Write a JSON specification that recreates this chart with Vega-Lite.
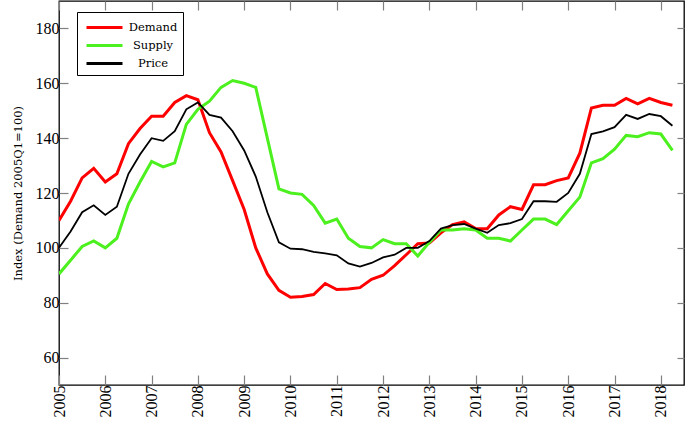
{
  "$schema": "https://vega.github.io/schema/vega-lite/v6.json",
  "autosize": "none",
  "width": 625,
  "height": 384,
  "padding": {"left": 59, "top": 1, "right": 1, "bottom": 43},
  "background": "white",
  "config": {
    "view": {"stroke": "black", "strokeWidth": 1.3},
    "axis": {"labelFont": "Liberation Serif", "labelFontSize": 16, "labelColor": "black", "titleFont": "DejaVu Serif", "domain": false, "grid": false, "ticks": true, "tickColor": "#808080", "tickWidth": 1.2}
  },
  "data": {"values": [
    {"t": 2005.00, "Demand": 110, "Supply": 90.5, "Price": 100},
    {"t": 2005.25, "Demand": 117, "Supply": 95.5, "Price": 106},
    {"t": 2005.50, "Demand": 125.5, "Supply": 100.5, "Price": 113},
    {"t": 2005.75, "Demand": 129, "Supply": 102.5, "Price": 115.5},
    {"t": 2006.00, "Demand": 124, "Supply": 100, "Price": 112},
    {"t": 2006.25, "Demand": 127, "Supply": 103.5, "Price": 115},
    {"t": 2006.50, "Demand": 138, "Supply": 116, "Price": 127},
    {"t": 2006.75, "Demand": 143.5, "Supply": 124, "Price": 134},
    {"t": 2007.00, "Demand": 148, "Supply": 131.5, "Price": 140},
    {"t": 2007.25, "Demand": 148, "Supply": 129.5, "Price": 139},
    {"t": 2007.50, "Demand": 153, "Supply": 131, "Price": 142.5},
    {"t": 2007.75, "Demand": 155.5, "Supply": 145, "Price": 150.5},
    {"t": 2008.00, "Demand": 154, "Supply": 150.5, "Price": 153},
    {"t": 2008.25, "Demand": 142, "Supply": 153.5, "Price": 148.5},
    {"t": 2008.50, "Demand": 135, "Supply": 158.5, "Price": 147.5},
    {"t": 2008.75, "Demand": 124.5, "Supply": 161, "Price": 142.5},
    {"t": 2009.00, "Demand": 114, "Supply": 160, "Price": 135.5},
    {"t": 2009.25, "Demand": 100, "Supply": 158.5, "Price": 126},
    {"t": 2009.50, "Demand": 90.5, "Supply": 140, "Price": 113},
    {"t": 2009.75, "Demand": 84.5, "Supply": 121.5, "Price": 102},
    {"t": 2010.00, "Demand": 82, "Supply": 120, "Price": 99.7},
    {"t": 2010.25, "Demand": 82.3, "Supply": 119.5, "Price": 99.5},
    {"t": 2010.50, "Demand": 83, "Supply": 115.5, "Price": 98.5},
    {"t": 2010.75, "Demand": 87, "Supply": 109, "Price": 98},
    {"t": 2011.00, "Demand": 84.8, "Supply": 110.5, "Price": 97.3},
    {"t": 2011.25, "Demand": 85, "Supply": 103.5, "Price": 94.3},
    {"t": 2011.50, "Demand": 85.5, "Supply": 100.5, "Price": 93.2},
    {"t": 2011.75, "Demand": 88.5, "Supply": 100, "Price": 94.5},
    {"t": 2012.00, "Demand": 90, "Supply": 103, "Price": 96.5},
    {"t": 2012.25, "Demand": 93.5, "Supply": 101.5, "Price": 97.5},
    {"t": 2012.50, "Demand": 97.5, "Supply": 101.5, "Price": 100},
    {"t": 2012.75, "Demand": 101.5, "Supply": 97, "Price": 100},
    {"t": 2013.00, "Demand": 101.8, "Supply": 102, "Price": 102.5},
    {"t": 2013.25, "Demand": 105.5, "Supply": 106.5, "Price": 107},
    {"t": 2013.50, "Demand": 108.5, "Supply": 106.5, "Price": 108.3},
    {"t": 2013.75, "Demand": 109.5, "Supply": 107, "Price": 108.7},
    {"t": 2014.00, "Demand": 107, "Supply": 106.5, "Price": 107},
    {"t": 2014.25, "Demand": 107, "Supply": 103.5, "Price": 105.5},
    {"t": 2014.50, "Demand": 112, "Supply": 103.5, "Price": 108.3},
    {"t": 2014.75, "Demand": 115, "Supply": 102.5, "Price": 109},
    {"t": 2015.00, "Demand": 114, "Supply": 106.5, "Price": 110.5},
    {"t": 2015.25, "Demand": 123, "Supply": 110.5, "Price": 117},
    {"t": 2015.50, "Demand": 123, "Supply": 110.5, "Price": 117},
    {"t": 2015.75, "Demand": 124.5, "Supply": 108.5, "Price": 116.8},
    {"t": 2016.00, "Demand": 125.5, "Supply": 113.5, "Price": 120},
    {"t": 2016.25, "Demand": 134.5, "Supply": 118.5, "Price": 127},
    {"t": 2016.50, "Demand": 151, "Supply": 131, "Price": 141.5},
    {"t": 2016.75, "Demand": 152, "Supply": 132.5, "Price": 142.5},
    {"t": 2017.00, "Demand": 152, "Supply": 136, "Price": 144},
    {"t": 2017.25, "Demand": 154.5, "Supply": 141, "Price": 148.5},
    {"t": 2017.50, "Demand": 152.5, "Supply": 140.5, "Price": 147},
    {"t": 2017.75, "Demand": 154.5, "Supply": 142, "Price": 148.8},
    {"t": 2018.00, "Demand": 153, "Supply": 141.5, "Price": 148},
    {"t": 2018.25, "Demand": 152, "Supply": 135.5, "Price": 144.5}
  ]},
  "transform": [{"fold": ["Demand", "Supply", "Price"], "as": ["series", "value"]}],
  "layer": [
    {
      "mark": {"type": "line", "strokeJoin": "miter", "clip": true},
      "encoding": {
        "x": {"field": "t", "type": "quantitative", "scale": {"domain": [2005, 2018.5], "nice": false, "zero": false},
          "axis": {"orient": "bottom", "values": [2005,2006,2007,2008,2009,2010,2011,2012,2013,2014,2015,2016,2017,2018], "format": "d", "labelExpr": "datum.label + '\u00a0\u00a0'", "labelAngle": 270, "labelAlign": "right", "labelBaseline": "middle", "labelPadding": 10, "title": null, "labelFlush": false, "labelOverlap": false, "tickSize": -10}},
        "y": {"field": "value", "type": "quantitative", "scale": {"domain": [50, 190], "nice": false, "zero": false},
          "axis": {"orient": "left", "values": [60,80,100,120,140,160,180], "labelPadding": 9, "tickSize": -9, "title": "Index (Demand 2005Q1=100)", "titleFontSize": 11.5, "titleFontWeight": "normal", "titlePadding": 12, "titleColor": "black"}},
        "color": {"field": "series", "type": "nominal",
          "scale": {"domain": ["Demand", "Supply", "Price"], "range": ["#ff0000", "#4cf01e", "#000000"]},
          "legend": {"title": null, "orient": "none", "legendX": 18, "legendY": 11, "direction": "vertical", "strokeColor": "black", "fillColor": "white", "padding": 5, "symbolType": "M-2,0H2", "symbolSize": 324, "symbolOffset": 12, "symbolStrokeWidth": 3, "labelFont": "DejaVu Serif", "labelFontSize": 11.5, "labelFontWeight": "normal", "labelColor": "black", "labelAlign": "center", "rowPadding": 1, "labelOffset": 38, "cornerRadius": 0, "zindex": 2}},
        "strokeWidth": {"condition": {"test": "datum.series === 'Price'", "value": 1.8}, "value": 3}
      }
    },
    {
      "mark": {"type": "point", "opacity": 0},
      "encoding": {
        "x": {"field": "t", "type": "quantitative", "axis": {"orient": "top", "values": [2005,2006,2007,2008,2009,2010,2011,2012,2013,2014,2015,2016,2017,2018], "labels": false, "title": null, "tickSize": -9}},
        "y": {"field": "value", "type": "quantitative", "axis": {"orient": "right", "values": [60,80,100,120,140,160,180], "labels": false, "title": null, "tickSize": -7}}
      }
    }
  ],
  "resolve": {"axis": {"x": "independent", "y": "independent"}}
}
